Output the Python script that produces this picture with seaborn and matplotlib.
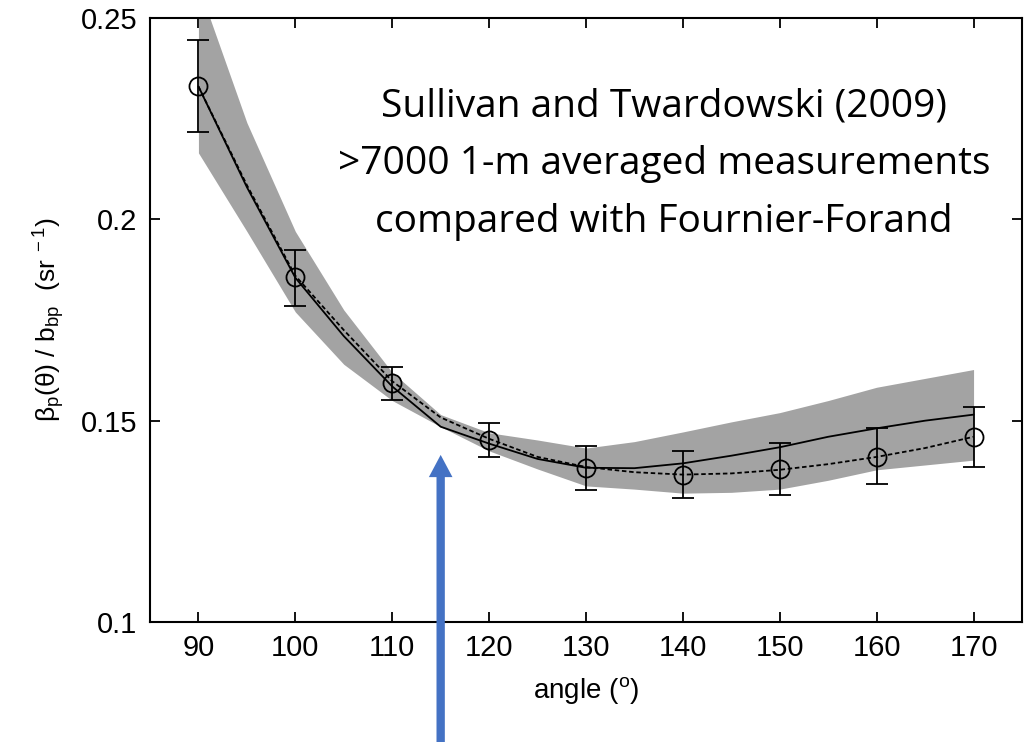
import numpy as np
import pandas as pd
import matplotlib
matplotlib.use("Agg")
import matplotlib.pyplot as plt
import seaborn as sns

# scattering angles (deg) for the smooth curves and the shaded band
angles = [90, 95, 100, 105, 110, 115, 120, 125, 130, 135, 140, 145, 150, 155, 160, 165, 170]
# mean of measurements (solid) and Fournier-Forand fit (dashed)
mean_curve = [0.233, 0.208, 0.1855, 0.171, 0.1585, 0.1485, 0.1443, 0.1405, 0.1383, 0.1382,
              0.1394, 0.1413, 0.1434, 0.146, 0.1481, 0.150, 0.1515]
ff_curve = [0.233, 0.2085, 0.186, 0.1725, 0.1598, 0.1508, 0.1455, 0.141, 0.1385, 0.1372,
            0.1366, 0.1369, 0.1378, 0.1392, 0.141, 0.1432, 0.146]
# shaded spread of the measurements
band_low = [0.2165, 0.197, 0.177, 0.164, 0.155, 0.1485, 0.1425, 0.138, 0.1338, 0.133,
            0.132, 0.1322, 0.133, 0.1352, 0.1378, 0.139, 0.1402]
band_high = [0.258, 0.224, 0.197, 0.1775, 0.162, 0.1515, 0.147, 0.1452, 0.1432, 0.1448,
             0.1472, 0.1497, 0.152, 0.155, 0.1583, 0.1605, 0.1627]

# discrete points with error bars
pt_angles = [90, 100, 110, 120, 130, 140, 150, 160, 170]
pt_values = [0.2331, 0.1857, 0.1593, 0.1452, 0.1382, 0.1366, 0.1380, 0.1410, 0.1460]
pt_low = [0.2217, 0.1786, 0.1552, 0.1410, 0.1329, 0.1307, 0.1315, 0.1342, 0.1386]
pt_high = [0.2446, 0.1925, 0.1634, 0.1495, 0.1436, 0.1425, 0.1445, 0.1481, 0.1534]

x_ticks = [90, 100, 110, 120, 130, 140, 150, 160, 170]
y_ticks = [0.1, 0.15, 0.2, 0.25]
y_tick_labels = ["0.1", "0.15", "0.2", "0.25"]

note = "Sullivan and Twardowski (2009)\n>7000 1-m averaged measurements\ncompared with Fournier-Forand"
arrow_angle = 115
arrow_tip = 0.1415

sns.set_style("ticks")
plt.rcParams["font.family"] = ["Liberation Sans", "DejaVu Sans"]
plt.rcParams["text.color"] = "black"
plt.rcParams["axes.labelcolor"] = "black"
plt.rcParams["mathtext.fontset"] = "custom"
plt.rcParams["mathtext.rm"] = "Liberation Sans"
plt.rcParams["mathtext.it"] = "Liberation Sans"
plt.rcParams["mathtext.default"] = "regular"

df = pd.DataFrame({"angle": angles, "mean": mean_curve, "ff": ff_curve,
                   "low": band_low, "high": band_high})

fig = plt.figure(figsize=(10.25, 7.42), dpi=100)
ax = fig.add_axes([150 / 1025, 1 - 622 / 742, 872 / 1025, 604 / 742])

ax.fill_between(df["angle"], df["low"], df["high"], color="#a3a3a3", lw=0, zorder=1)
sns.lineplot(data=df, x="angle", y="mean", ax=ax, color="black", lw=1.3, zorder=3)
sns.lineplot(data=df, x="angle", y="ff", ax=ax, color="black", lw=1.3,
             linestyle=(0, (2.5, 1.5)), zorder=3)

yerr = [np.array(pt_values) - np.array(pt_low), np.array(pt_high) - np.array(pt_values)]
ax.errorbar(pt_angles, pt_values, yerr=yerr, fmt="o", ms=13, mfc="none", mec="black",
            mew=1.3, ecolor="black", elinewidth=1.3, capsize=8, capthick=1.3, zorder=4)

ax.set_xlim(85, 175)
ax.set_ylim(0.1, 0.25)
ax.set_xticks(x_ticks)
ax.set_yticks(y_ticks)
ax.set_yticklabels(y_tick_labels)
ax.tick_params(direction="in", length=7, width=1.3, labelsize=21, top=True, right=True,
               labeltop=False, labelright=False, pad=9, colors="black")
for s in ax.spines.values():
    s.set_linewidth(1.5)
    s.set_color("black")

ax.set_xlabel(r"angle ($^{\rm o}$)", fontsize=20, labelpad=9)
ax.set_ylabel(r"$\beta_p(\theta)$ / b$_{bp}$  (sr$^{\ -1}$)", fontsize=19, labelpad=10)

fig.text(664 / 1025, 1 - 164 / 742, note, ha="center", va="center", fontsize=28,
         family=["Open Sans", "DejaVu Sans"], linespacing=1.68, color="black")

ax.annotate("", xy=(arrow_angle, arrow_tip), xytext=(arrow_angle, 0.0),
            xycoords="data", textcoords=("data", "figure fraction"),
            arrowprops=dict(width=6, headwidth=17, headlength=16, color="#4472c4", lw=0),
            annotation_clip=False, zorder=5)

fig.savefig("out.png", dpi=100)
